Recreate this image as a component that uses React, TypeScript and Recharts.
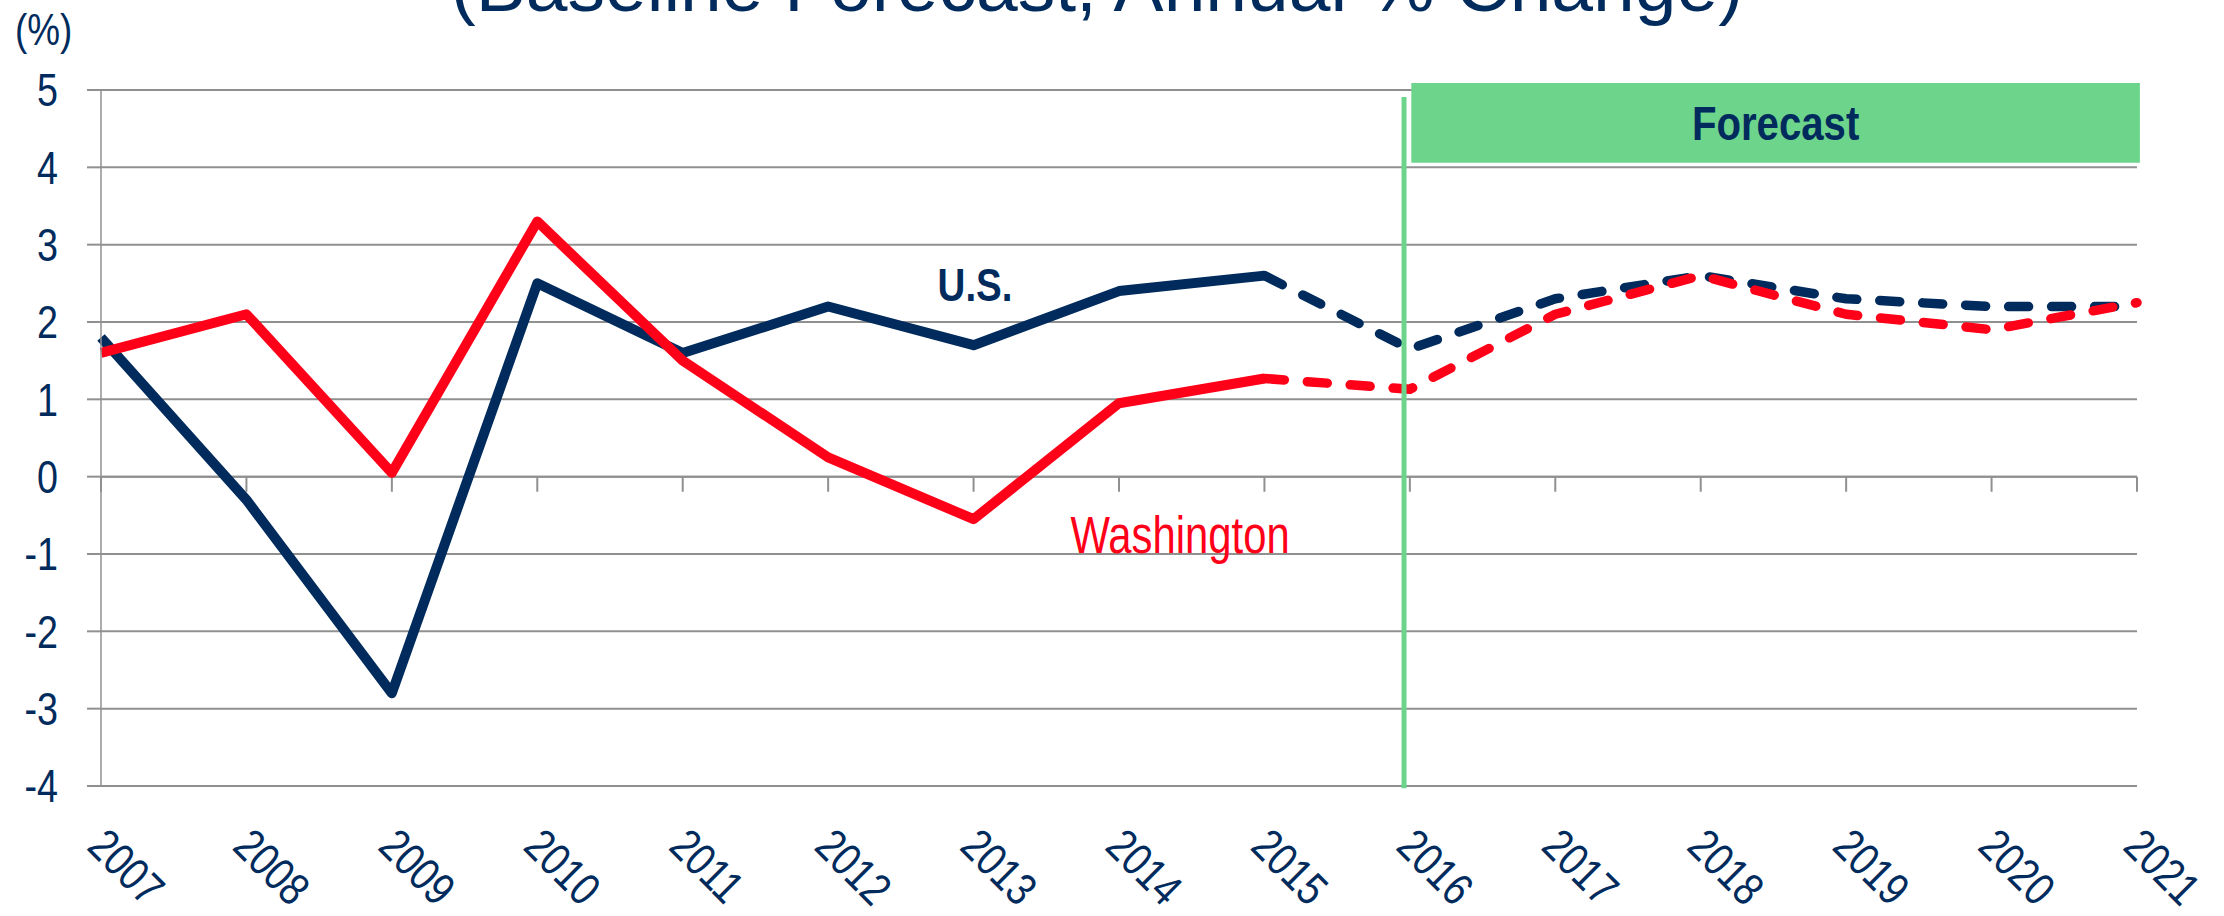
import React from 'react';
import {
  LineChart,
  Line,
  XAxis,
  YAxis,
  CartesianGrid,
  ReferenceLine,
  ReferenceArea,
  ReferenceDot,
} from 'recharts';

// ---- data ----
const years = [2007, 2008, 2009, 2010, 2011, 2012, 2013, 2014, 2015, 2016, 2017, 2018, 2019, 2020, 2021];
const usGrowth = [1.8, -0.3, -2.8, 2.5, 1.6, 2.2, 1.7, 2.4, 2.6, 1.65, 2.3, 2.6, 2.3, 2.2, 2.2];
const waGrowth = [1.6, 2.1, 0.05, 3.3, 1.5, 0.25, -0.55, 0.95, 1.27, 1.13, 2.1, 2.6, 2.1, 1.9, 2.25];
const yTicks = [-4, -3, -2, -1, 0, 1, 2, 3, 4, 5];
const lastActualYear = 2015;

const titleText = '(Baseline Forecast, Annual % Change)';
const unitText = '(%)';
const forecastText = 'Forecast';
const usText = 'U.S.';
const waText = 'Washington';

// annotation anchors (data units)
const forecastStartX = 2015.96;
const forecastBox = { x1: 2016.01, x2: 2021.02, y1: 4.06, y2: 5.09 };
const usLabelPos = { x: 2013.01, y: 2.49 };
const waLabelPos = { x: 2014.42, y: -0.75 };
const zeroTickDepth = 0.195;

// ---- styles ----
const NAVY = '#002B5C';
const RED = '#FF0019';
const GREEN = '#6DD58B';
const GRID = '#909090';
const FONT = '"Liberation Sans", Arial, sans-serif';
const NARROW_SCALE = 0.82;

const data = years.map((year, i) => ({
  year,
  usActual: year <= lastActualYear ? usGrowth[i] : null,
  usForecast: year >= lastActualYear ? usGrowth[i] : null,
  waActual: year <= lastActualYear ? waGrowth[i] : null,
  waForecast: year >= lastActualYear ? waGrowth[i] : null,
}));

type NTProps = {
  x: number;
  y: number;
  anchor?: 'start' | 'middle' | 'end';
  angle?: number;
  size: number;
  fill: string;
  weight?: string | number;
  dy?: string;
  children: React.ReactNode;
};

const NarrowText = ({ x, y, anchor = 'start', angle = 0, size, fill, weight = 'normal', dy = '0', children }: NTProps) => (
  <text
    x={0}
    y={0}
    dy={dy}
    transform={`translate(${x} ${y}) rotate(${angle}) scale(${NARROW_SCALE} 1)`}
    textAnchor={anchor}
    fill={fill}
    fontSize={size}
    fontFamily={FONT}
    fontWeight={weight}
  >
    {children}
  </text>
);

const XTick = (props: any) => {
  const { x, y, payload } = props;
  return (
    <NarrowText x={x + 8} y={y} angle={45} size={46} fill={NAVY} dy="0.72em">
      {payload.value}
    </NarrowText>
  );
};

const YTick = (props: any) => {
  const { x, y, payload } = props;
  return (
    <NarrowText x={x} y={y} anchor="end" size={46} fill={NAVY} dy="0.355em">
      {payload.value}
    </NarrowText>
  );
};

const centerLabel = (text: string, fill: string, size: number, weight: string | number) => (props: any) => {
  const vb = props.viewBox || { x: 0, y: 0, width: 0, height: 0 };
  const cx = vb.x + (vb.width || 0) / 2;
  const cy = vb.y + (vb.height || 0) / 2;
  return (
    <NarrowText x={cx} y={cy} anchor="middle" size={size} fill={fill} weight={weight} dy="0.355em">
      {text}
    </NarrowText>
  );
};

export default function App() {
  return (
    <div style={{ position: 'absolute', left: 0, top: 0, width: 2224, height: 916, background: '#fff' }}>
      <LineChart
        width={2224}
        height={916}
        data={data}
        margin={{ top: 90, right: 87, bottom: 0, left: 0 }}
      >
        <CartesianGrid vertical={false} stroke={GRID} strokeWidth={2} />
        <XAxis
          dataKey="year"
          type="number"
          domain={[2007, 2021]}
          ticks={years}
          interval={0}
          axisLine={false}
          tickLine={false}
          tickSize={0}
          tickMargin={39}
          height={130}
          tick={<XTick />}
        />
        <YAxis
          domain={[-4, 5]}
          ticks={yTicks}
          interval={0}
          width={101}
          tickSize={14}
          tickMargin={29}
          axisLine={{ stroke: GRID, strokeWidth: 1.5 }}
          tickLine={{ stroke: GRID, strokeWidth: 2 }}
          tick={<YTick />}
        />
        {years.map((yr) => (
          <ReferenceLine
            key={`zt-${yr}`}
            segment={[
              { x: yr, y: 0 },
              { x: yr, y: -zeroTickDepth },
            ]}
            stroke={GRID}
            strokeWidth={2}
            ifOverflow="visible"
          />
        ))}
        <ReferenceLine y={0} stroke={GRID} strokeWidth={2} />
        <ReferenceArea
          x1={forecastBox.x1}
          x2={forecastBox.x2}
          y1={forecastBox.y1}
          y2={forecastBox.y2}
          fill={GREEN}
          fillOpacity={1}
          stroke="none"
          ifOverflow="visible"
          label={{ content: centerLabel(forecastText, NAVY, 49, 'bold') }}
        />
        <Line
          dataKey="usActual"
          stroke={NAVY}
          strokeWidth={10}
          dot={false}
          strokeLinejoin="round"
          connectNulls={false}
          isAnimationActive={false}
        />
        <Line
          dataKey="waActual"
          stroke={RED}
          strokeWidth={10}
          dot={false}
          strokeLinejoin="round"
          connectNulls={false}
          isAnimationActive={false}
        />
        <Line
          dataKey="usForecast"
          stroke={NAVY}
          strokeWidth={9.5}
          strokeDasharray="20 23"
          strokeLinecap="round"
          strokeLinejoin="round"
          dot={false}
          connectNulls={false}
          isAnimationActive={false}
        />
        <Line
          dataKey="waForecast"
          stroke={RED}
          strokeWidth={9.5}
          strokeDasharray="20 23"
          strokeLinecap="round"
          strokeLinejoin="round"
          dot={false}
          connectNulls={false}
          isAnimationActive={false}
        />
        <ReferenceLine
          segment={[
            { x: forecastStartX, y: 4.91 },
            { x: forecastStartX, y: -4.03 },
          ]}
          stroke={GREEN}
          strokeWidth={5}
          ifOverflow="visible"
        />
        <ReferenceDot
          x={usLabelPos.x}
          y={usLabelPos.y}
          r={0}
          fill="none"
          stroke="none"
          ifOverflow="visible"
          label={{ content: centerLabel(usText, NAVY, 47, 'bold') }}
        />
        <ReferenceDot
          x={waLabelPos.x}
          y={waLabelPos.y}
          r={0}
          fill="none"
          stroke="none"
          ifOverflow="visible"
          label={{ content: centerLabel(waText, RED, 51, 'normal') }}
        />
      </LineChart>
      <svg
        width={2224}
        height={916}
        style={{ position: 'absolute', left: 0, top: 0, pointerEvents: 'none' }}
      >
        <text x={1097} y={11} textAnchor="middle" fill={NAVY} fontSize={75} fontFamily={FONT}>
          {titleText}
        </text>
        <NarrowText x={15} y={45} size={45} fill={NAVY}>
          {unitText}
        </NarrowText>
      </svg>
    </div>
  );
}
